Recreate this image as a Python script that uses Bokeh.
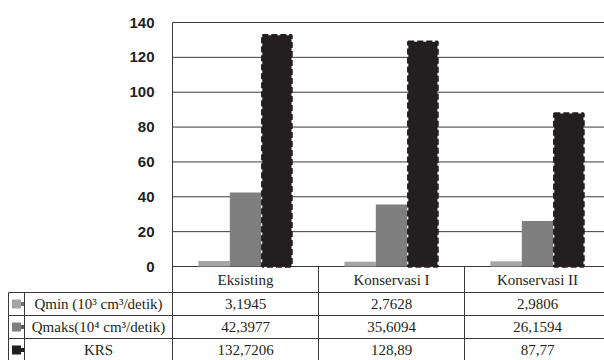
from bokeh.plotting import figure
from bokeh.models import Range1d, FixedTicker, LinearAxis, ColumnDataSource
from bokeh.core.properties import value
from bokeh.embed import file_html
from bokeh.resources import INLINE

# --- data -------------------------------------------------------------
categories = ["Eksisting", "Konservasi I", "Konservasi II"]
series_names = ["Qmin (10\u00b3 cm\u00b3/detik)", "Qmaks(10\u2074 cm\u00b3/detik)", "KRS"]
qmin_text = ["3,1945", "2,7628", "2,9806"]
qmaks_text = ["42,3977", "35,6094", "26,1594"]
krs_text = ["132,7206", "128,89", "87,77"]
y_ticks = [0, 20, 40, 60, 80, 100, 120, 140]


def to_num(s):
    return float(s.replace(",", "."))


qmin = [to_num(s) for s in qmin_text]
qmaks = [to_num(s) for s in qmaks_text]
krs = [to_num(s) for s in krs_text]

# --- style / layout ---------------------------------------------------
FONT = "Liberation Serif"
AXIS_FONT = "Liberation Sans"
FSIZE = "15px"
INK = "#231f20"
LINE = "#3a3a3a"
COLORS = ["#a6a6a6", "#7f7f7f", "#231f20"]
W, H = 604, 360
LEFT = 172                      # pixel column of the value axis
CAT_PX = 146                    # pixel width of one category
Y_TOP_PX, Y_ZERO_PX = 22, 266   # pixel rows of 140 and 0
PX = (Y_ZERO_PX - Y_TOP_PX) / 140.0   # pixels per value unit
n = len(categories)

x_start, x_end = -LEFT / CAT_PX, (W - LEFT) / CAT_PX
y_start, y_end = -(H - Y_ZERO_PX) / PX, 140 + Y_TOP_PX / PX


def below(px):
    """value-axis coordinate of a table row that lies px pixels under zero"""
    return -px / PX


p = figure(width=W, height=H, output_backend="svg", toolbar_location=None,
           x_range=Range1d(x_start, x_end), y_range=Range1d(y_start, y_end),
           x_axis_location=None, y_axis_location=None, min_border=0,
           outline_line_color=None, background_fill_color="white",
           border_fill_color="white")
p.grid.visible = False

# horizontal grid lines
p.segment(x0=[0] * len(y_ticks), x1=[x_end] * len(y_ticks), y0=y_ticks, y1=y_ticks,
          line_color=LINE, line_width=1)

# value axis pinned at the left edge of the category area
ax = LinearAxis(fixed_location=0, ticker=FixedTicker(ticks=y_ticks),
                bounds=(y_start, 140))
ax.axis_line_color = LINE
ax.major_tick_line_color = None
ax.minor_tick_line_color = None
ax.major_label_standoff = 12
ax.major_label_text_font = AXIS_FONT
ax.major_label_text_font_style = "bold"
ax.major_label_text_font_size = FSIZE
ax.major_label_text_color = INK
p.add_layout(ax, "left")

# bars
bw = 0.215
offsets = [-bw, 0.0, bw]
centers = [i + 0.5 for i in range(n)]
for vals, off, col in zip([qmin, qmaks], offsets[:2], COLORS[:2]):
    src = ColumnDataSource(dict(x=[c + off for c in centers], top=vals))
    p.vbar(x="x", top="top", bottom=0, width=bw, source=src,
           fill_color=col, line_color=None)
src = ColumnDataSource(dict(x=[c + offsets[2] for c in centers], top=krs))
p.vbar(x="x", top="top", bottom=0, width=bw * 0.93, source=src,
       fill_color=COLORS[2], line_color=INK, line_width=2.5, line_dash="6 3")

# --- data table under the chart --------------------------------------
row_top = [26, 49, 72]          # pixel offsets below zero
row_h = 23
box_l = (8 - LEFT) / CAT_PX
key_r = (24 - LEFT) / CAT_PX
y_low = y_start - 1

# horizontal rules
p.segment(x0=[box_l] * 3, x1=[x_end] * 3, y0=[below(r) for r in row_top],
          y1=[below(r) for r in row_top], line_color=LINE, line_width=1)
# vertical rules between the category columns
p.segment(x0=list(range(1, n)), x1=list(range(1, n)), y0=[0] * (n - 1),
          y1=[y_low] * (n - 1), line_color=LINE, line_width=1)
# left box holding legend keys and series names
p.segment(x0=[box_l, key_r], x1=[box_l, key_r], y0=[below(row_top[0])] * 2,
          y1=[y_low] * 2, line_color=LINE, line_width=1)

# header row
p.text(x=centers, y=[below(13.5)] * n, text=categories, text_font=value(FONT),
       text_font_size=FSIZE, text_color=INK, text_align="center",
       text_baseline="middle")

# legend keys
row_mid = [below(t + row_h / 2) for t in row_top]
key_cx = (16 - LEFT) / CAT_PX
key_w = 9 / CAT_PX
tab_w = 3 / CAT_PX
p.rect(x=[key_cx] * 3, y=row_mid, width=key_w, height=9 / PX,
       fill_color=COLORS, line_color=None)
p.rect(x=[key_cx + key_w / 2 + tab_w / 2] * 3, y=row_mid, width=tab_w, height=4 / PX,
       fill_color=["#6f6f6f", "#5a5a5a", INK], line_color=None)

# series names
p.text(x=[key_r / 2] * 3, y=row_mid, text=series_names, text_font=value(FONT),
       text_font_size=FSIZE, text_color=INK, text_align="center",
       text_baseline="middle")

# cell values
for texts, ym in zip([qmin_text, qmaks_text, krs_text], row_mid):
    p.text(x=centers, y=[ym] * n, text=texts, text_font=value(FONT),
           text_font_size=FSIZE, text_color=INK, text_align="center",
           text_baseline="middle")

open("out.html", "w").write(file_html(p, INLINE))
